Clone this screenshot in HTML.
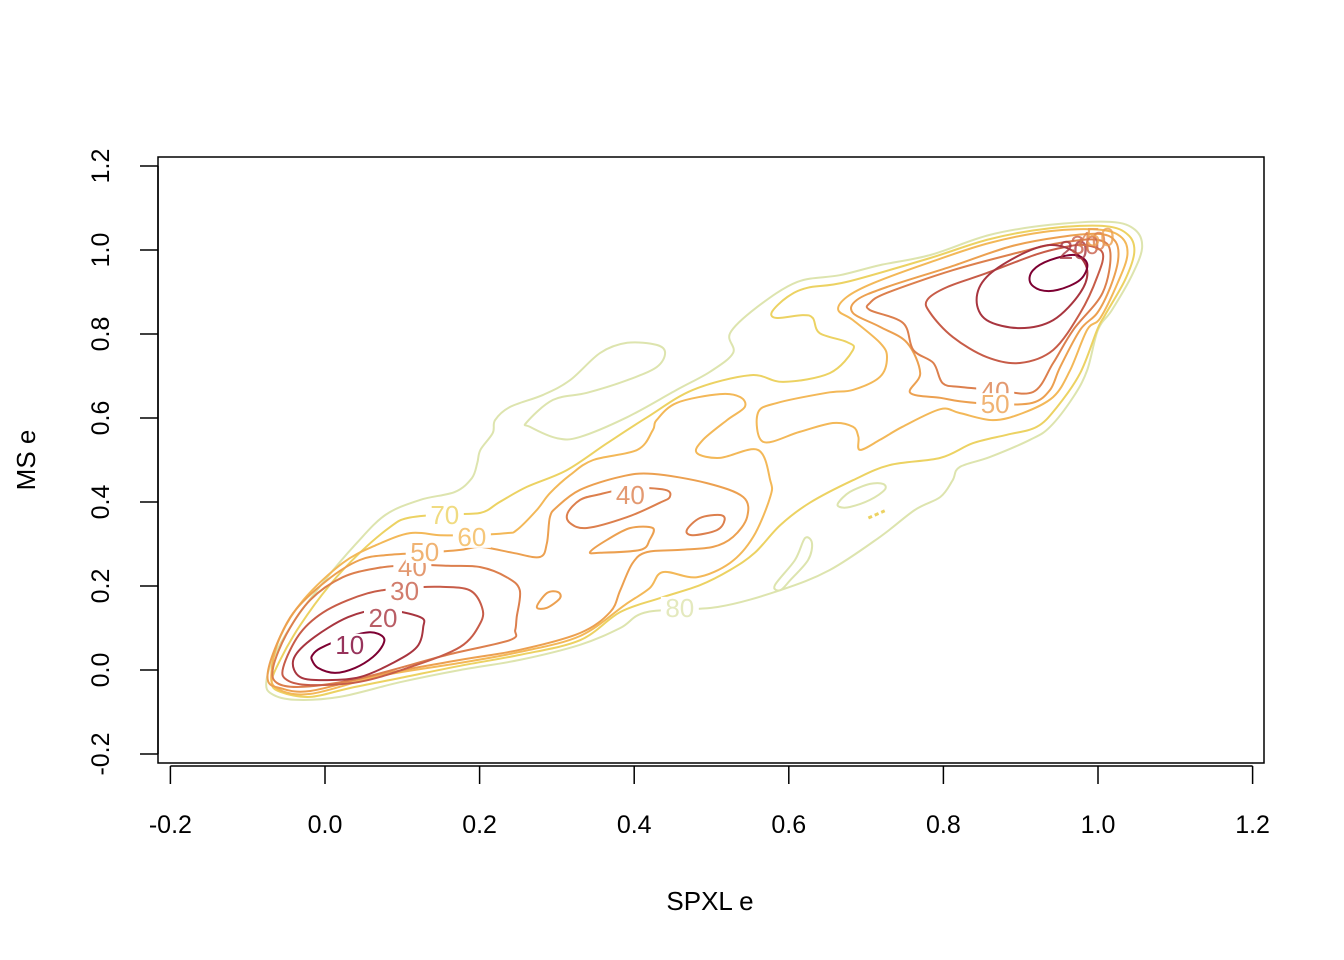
<!DOCTYPE html>
<html><head><meta charset="utf-8"><style>
html,body{margin:0;padding:0;background:#fff}
svg{display:block;font-family:"Liberation Sans",Arial,sans-serif}
</style></head><body>
<svg id="chart" width="1344" height="960" viewBox="0 0 1344 960">
<rect x="0" y="0" width="1344" height="960" fill="#fff"/>
<g id="plot"></g>
<g id="axes"></g>
</svg>
<script>
const xTicks=[-0.2,0,0.2,0.4,0.6,0.8,1.0,1.2];
const yTicks=[-0.2,0,0.2,0.4,0.6,0.8,1.0,1.2];
const xTickLabels=["-0.2","0.0","0.2","0.4","0.6","0.8","1.0","1.2"];
const yTickLabels=["-0.2","0.0","0.2","0.4","0.6","0.8","1.0","1.2"];
const levelNames=[10,20,30,40,50,60,70,80];
const levelColors={10:"#7d0032",20:"#a8353f",30:"#c75c48",40:"#dc7f4d",50:"#eca050",60:"#f3b858",70:"#ecd262",80:"#dde4ae"};
const c80=[[-0.076,-0.029],[-0.065,0.036],[-0.039,0.119],[0,0.214],[0.039,0.298],[0.078,0.369],[0.123,0.405],[0.168,0.424],[0.190,0.457],[0.197,0.493],[0.201,0.524],[0.217,0.564],[0.220,0.595],[0.239,0.626],[0.282,0.655],[0.317,0.690],[0.356,0.755],[0.391,0.779],[0.429,0.774],[0.440,0.755],[0.429,0.721],[0.391,0.690],[0.339,0.660],[0.295,0.643],[0.261,0.590],[0.265,0.579],[0.300,0.552],[0.330,0.555],[0.391,0.602],[0.455,0.667],[0.498,0.710],[0.528,0.755],[0.524,0.802],[0.559,0.864],[0.611,0.924],[0.666,0.940],[0.718,0.964],[0.783,0.988],[0.860,1.036],[0.938,1.060],[1.016,1.067],[1.048,1.048],[1.057,1.005],[1.044,0.940],[1.018,0.857],[1.000,0.810],[0.986,0.714],[0.968,0.650],[0.938,0.579],[0.912,0.548],[0.860,0.507],[0.821,0.483],[0.812,0.452],[0.796,0.412],[0.763,0.381],[0.718,0.317],[0.653,0.238],[0.589,0.190],[0.508,0.150],[0.417,0.138],[0.382,0.100],[0.330,0.060],[0.252,0.024],[0.175,0.000],[0.097,-0.029],[0.019,-0.064],[-0.039,-0.071],[-0.069,-0.057]];
const c80hook=[[0.582,0.202],[0.608,0.262],[0.621,0.314],[0.630,0.302],[0.625,0.262],[0.602,0.214],[0.589,0.190]];
const c80loop=[[0.664,0.398],[0.679,0.424],[0.705,0.443],[0.722,0.443],[0.724,0.429],[0.705,0.405],[0.679,0.388],[0.666,0.388]];
const c70=[[-0.069,-0.029],[-0.058,0.024],[-0.032,0.107],[0.006,0.202],[0.045,0.279],[0.084,0.340],[0.107,0.362],[0.155,0.371],[0.201,0.374],[0.226,0.400],[0.261,0.436],[0.313,0.476],[0.365,0.540],[0.417,0.602],[0.476,0.667],[0.550,0.702],[0.593,0.686],[0.653,0.707],[0.683,0.762],[0.675,0.781],[0.640,0.802],[0.631,0.838],[0.618,0.845],[0.585,0.838],[0.578,0.852],[0.598,0.888],[0.624,0.910],[0.675,0.924],[0.783,0.981],[0.860,1.026],[0.938,1.052],[1.009,1.057],[1.039,1.036],[1.047,0.995],[1.035,0.929],[1.009,0.845],[0.999,0.810],[0.977,0.707],[0.947,0.626],[0.921,0.579],[0.882,0.560],[0.838,0.540],[0.796,0.505],[0.731,0.488],[0.683,0.452],[0.627,0.398],[0.589,0.345],[0.556,0.279],[0.524,0.238],[0.485,0.202],[0.433,0.171],[0.382,0.138],[0.330,0.071],[0.252,0.036],[0.175,0.010],[0.097,-0.019],[0.032,-0.043],[-0.019,-0.064],[-0.058,-0.052]];
const c70dots=[[0.703,0.362],[0.724,0.379]];
const c60a=[[0.110,0.326],[0.067,0.298],[0.023,0.255],[-0.028,0.167],[-0.058,0.079],[-0.069,0.000],[-0.063,-0.043],[-0.019,-0.057],[0.071,-0.014],[0.175,0.017],[0.252,0.043],[0.330,0.081],[0.388,0.155],[0.420,0.195],[0.437,0.233],[0.481,0.221],[0.524,0.255],[0.554,0.317],[0.576,0.412],[0.576,0.452],[0.560,0.524],[0.511,0.505],[0.481,0.517],[0.489,0.548],[0.520,0.595],[0.543,0.626],[0.537,0.650],[0.511,0.657],[0.455,0.636],[0.429,0.595],[0.424,0.571],[0.404,0.524],[0.347,0.500],[0.317,0.464],[0.291,0.421],[0.274,0.381],[0.248,0.333],[0.235,0.326],[0.188,0.321],[0.149,0.321]];
const c60b=[[0.567,0.543],[0.560,0.612],[0.585,0.636],[0.649,0.660],[0.683,0.667],[0.718,0.698],[0.727,0.745],[0.718,0.779],[0.683,0.833],[0.664,0.857],[0.675,0.888],[0.709,0.921],[0.783,0.971],[0.860,1.017],[0.938,1.045],[1.003,1.048],[1.031,1.029],[1.038,0.988],[1.026,0.924],[1.003,0.838],[0.986,0.810],[0.964,0.714],[0.942,0.650],[0.903,0.612],[0.864,0.595],[0.821,0.612],[0.796,0.621],[0.747,0.579],[0.718,0.548],[0.692,0.524],[0.690,0.555],[0.683,0.579],[0.657,0.588],[0.614,0.567]];
const c50a=[[0.082,0.274],[0.045,0.262],[0.003,0.214],[-0.041,0.136],[-0.067,0.040],[-0.074,-0.024],[-0.058,-0.043],[-0.019,-0.050],[0.067,-0.012],[0.175,0.024],[0.252,0.048],[0.330,0.088],[0.369,0.138],[0.382,0.190],[0.398,0.255],[0.417,0.281],[0.459,0.286],[0.502,0.293],[0.528,0.317],[0.546,0.364],[0.541,0.412],[0.494,0.445],[0.424,0.467],[0.382,0.460],[0.330,0.429],[0.300,0.388],[0.291,0.364],[0.287,0.302],[0.278,0.269],[0.243,0.279],[0.201,0.293],[0.175,0.286],[0.129,0.279]];
const c50b=[[0.796,0.648],[0.757,0.660],[0.770,0.707],[0.753,0.779],[0.718,0.817],[0.683,0.850],[0.688,0.881],[0.727,0.912],[0.809,0.960],[0.886,1.008],[0.951,1.031],[1.003,1.038],[1.023,1.019],[1.026,0.976],[1.016,0.912],[0.999,0.850],[0.977,0.810],[0.951,0.721],[0.938,0.667],[0.915,0.636],[0.867,0.633],[0.821,0.640]];
const c50c=[[0.343,0.281],[0.365,0.310],[0.395,0.338],[0.424,0.338],[0.420,0.310],[0.408,0.286],[0.356,0.279]];
const c50d=[[0.274,0.150],[0.287,0.183],[0.301,0.186],[0.304,0.171],[0.287,0.148]];
const c40a=[[0.069,0.243],[0.023,0.221],[-0.019,0.167],[-0.049,0.088],[-0.067,0.007],[-0.062,-0.031],[-0.028,-0.040],[0.045,-0.020],[0.158,0.036],[0.239,0.071],[0.246,0.095],[0.248,0.126],[0.252,0.190],[0.235,0.221],[0.201,0.245],[0.159,0.248],[0.113,0.250]];
const c40b=[[0.821,0.674],[0.799,0.683],[0.787,0.731],[0.761,0.762],[0.748,0.826],[0.705,0.857],[0.705,0.874],[0.727,0.898],[0.812,0.952],[0.899,0.995],[0.951,1.017],[1.000,1.024],[1.016,0.993],[1.006,0.898],[0.968,0.810],[0.942,0.731],[0.916,0.662],[0.867,0.667]];
const c40c=[[0.352,0.417],[0.330,0.405],[0.314,0.374],[0.317,0.350],[0.339,0.338],[0.391,0.364],[0.433,0.398],[0.446,0.412],[0.440,0.429],[0.395,0.433]];
const c40d=[[0.468,0.333],[0.485,0.362],[0.511,0.369],[0.517,0.357],[0.507,0.333],[0.476,0.321]];
const c30a=[[0.056,0.183],[0.003,0.143],[-0.032,0.088],[-0.054,0.007],[-0.049,-0.024],[-0.019,-0.036],[0.045,-0.028],[0.110,0.007],[0.175,0.055],[0.201,0.112],[0.203,0.150],[0.187,0.190],[0.149,0.198],[0.103,0.195]];
const c30b=[[0.921,0.990],[0.856,0.945],[0.805,0.912],[0.779,0.881],[0.783,0.850],[0.812,0.793],[0.856,0.745],[0.899,0.731],[0.942,0.762],[0.977,0.850],[0.999,0.936],[1.006,0.993],[0.983,1.012],[0.957,1.007]];
const c20a=[[0.123,0.126],[0.127,0.102],[0.119,0.055],[0.088,0.017],[0.045,-0.017],[0.003,-0.024],[-0.032,-0.017],[-0.041,0.024],[-0.019,0.071],[0.030,0.126],[0.075,0.143]];
const c20b=[[0.938,1.012],[0.899,0.988],[0.856,0.936],[0.843,0.881],[0.856,0.833],[0.899,0.814],[0.942,0.833],[0.977,0.898],[0.986,0.952],[0.970,0.995]];
const c10a=[[-0.017,0.024],[-0.009,0.005],[0.013,-0.007],[0.039,0.005],[0.062,0.031],[0.075,0.060],[0.075,0.079],[0.058,0.090],[0.026,0.076],[-0.006,0.052],[-0.016,0.036]];
const c10b=[[0.912,0.924],[0.925,0.905],[0.948,0.905],[0.977,0.929],[0.986,0.967],[0.970,0.988],[0.938,0.976],[0.916,0.952]];
const contourLevels=[80,80,80,70,60,60,50,50,50,50,40,40,40,40,30,30,20,20,10,10];
const contourLines=[c80,c80hook,c80loop,c70,c60a,c60b,c50a,c50b,c50c,c50d,c40a,c40b,c40c,c40d,c30a,c30b,c20a,c20b,c10a,c10b];
const labelTexts=["10","20","30","40","50","60","70","40","80","40","50","20","30","40","50"];
const labelLevels=[10,20,30,40,50,60,70,40,80,40,50,20,30,40,50];
const labelX=[0.032,0.075,0.103,0.113,0.129,0.190,0.155,0.395,0.459,0.867,0.867,0.968,0.983,0.992,1.003];
const labelY=[0.060,0.124,0.188,0.245,0.281,0.317,0.369,0.417,0.148,0.664,0.633,1.000,1.012,1.021,1.031];

const NS="http://www.w3.org/2000/svg";
const X0=325,XS=773,Y0=670,YS=420;
function sx(v){return X0+v*XS;}
function sy(v){return Y0-v*YS;}
function mk(tag,attrs,parent){const e=document.createElementNS(NS,tag);for(const k in attrs)e.setAttribute(k,attrs[k]);parent.appendChild(e);return e;}
function smoothPath(pts,closed){
  const p=pts.map(d=>[sx(d[0]),sy(d[1])]);const n=p.length;
  let s="M"+p[0][0].toFixed(1)+","+p[0][1].toFixed(1);
  const last=closed?n:n-1;
  for(let i=0;i<last;i++){
    const a=p[(i-1+n)%n],b=p[i],c=p[(i+1)%n],d=p[(i+2)%n];
    const A=(!closed&&i===0)?b:a, D=(!closed&&i+2>=n)?c:d;
    const c1=[b[0]+(c[0]-A[0])/6,b[1]+(c[1]-A[1])/6],c2=[c[0]-(D[0]-b[0])/6,c[1]-(D[1]-b[1])/6];
    s+="C"+c1[0].toFixed(1)+","+c1[1].toFixed(1)+" "+c2[0].toFixed(1)+","+c2[1].toFixed(1)+" "+c[0].toFixed(1)+","+c[1].toFixed(1);
  }
  return s+(closed?"Z":"");
}
const plot=document.getElementById("plot");
const axes=document.getElementById("axes");
for(let i=0;i<contourLines.length;i++){
  const lv=contourLevels[i];
  const el=mk("path",{d:smoothPath(contourLines[i],true),fill:"none",stroke:levelColors[lv],"stroke-width":2},plot);
  
  
}
{
  const el=mk("path",{d:smoothPath(c70dots,false),fill:"none",stroke:levelColors[70],"stroke-width":3,"stroke-dasharray":"4 3"},plot);
  
  
}
for(let i=0;i<labelTexts.length;i++){
  const g=mk("g",{},plot);
  
  
  const x=sx(labelX[i]),y=sy(labelY[i]);
  if(i<11) mk("rect",{x:x-19,y:y-11,width:38,height:22,fill:"#fff"},g);
  const t=mk("text",{x:x,y:y+9,"text-anchor":"middle","font-size":26,fill:levelColors[labelLevels[i]],"fill-opacity":0.8},g);
  t.textContent=labelTexts[i];
}
{
  const b=mk("rect",{x:158,y:157,width:1106,height:606,fill:"none",stroke:"#000","stroke-width":1.5},axes);
  
  
}
{
  const l=mk("line",{x1:sx(xTicks[0]),x2:sx(xTicks[xTicks.length-1]),y1:766,y2:766,stroke:"#000","stroke-width":1.5},axes);
  
  
  for(let i=0;i<xTicks.length;i++){
    const x=sx(xTicks[i]);
    const t=mk("line",{x1:x,x2:x,y1:766,y2:784,stroke:"#000","stroke-width":1.5},axes);
    
    
    const tx=mk("text",{x:x,y:833,"text-anchor":"middle","font-size":25,fill:"#000"},axes);
    
    
    tx.textContent=xTickLabels[i];
  }
}
{
  const l=mk("line",{x1:158,x2:158,y1:sy(yTicks[0]),y2:sy(yTicks[yTicks.length-1]),stroke:"#000","stroke-width":1.5},axes);
  
  
  for(let i=0;i<yTicks.length;i++){
    const y=sy(yTicks[i]);
    const t=mk("line",{x1:140,x2:158,y1:y,y2:y,stroke:"#000","stroke-width":1.5},axes);
    
    
    const tx=mk("text",{x:0,y:0,"text-anchor":"middle","font-size":25,fill:"#000",transform:"translate(109,"+y+") rotate(-90)"},axes);
    
    
    tx.textContent=yTickLabels[i];
  }
}
{
  const t=mk("text",{x:710,y:910,"text-anchor":"middle","font-size":26,fill:"#000"},axes);
  
  
  t.textContent="SPXL e";
  const t2=mk("text",{x:0,y:0,"text-anchor":"middle","font-size":26,fill:"#000",transform:"translate(35,460) rotate(-90)"},axes);
  
  
  t2.textContent="MS e";
}
</script>
</body></html>
